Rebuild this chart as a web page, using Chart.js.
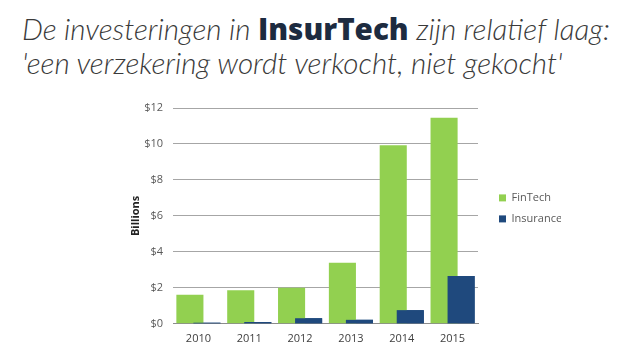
<!DOCTYPE html>
<html>
<head>
<meta charset="utf-8">
<script src="https://cdn.jsdelivr.net/npm/chart.js@4.4.0/dist/chart.umd.min.js"></script>
<style>
  html, body { margin: 0; padding: 0; background: #fff; }
  #wrap { position: relative; width: 638px; height: 359px; overflow: hidden; }
  #title {
    position: absolute; left: 22px; top: 12px;
    font-family: "Lato", sans-serif; font-style: italic; font-weight: 300;
    font-size: 29.6px; line-height: 34px; color: #3a3a3a; white-space: nowrap;
  }
  #title b { font-family: "Open Sans", sans-serif; font-style: normal; font-weight: 800; color: #1d2b40; }
  canvas { position: absolute; left: 0; top: 0; }
</style>
</head>
<body>
<div id="wrap">
  <div id="title">De investeringen in <b>InsurTech</b> zijn relatief laag:<br>'een verzekering wordt verkocht, niet gekocht'</div>
  <canvas id="chart" width="638" height="359"></canvas>
</div>
<script>
// data (billions of dollars)
const years = ['2010', '2011', '2012', '2013', '2014', '2015'];
const fintech = [1.62, 1.86, 2.0, 3.4, 9.93, 11.46];
const insurance = [0.06, 0.1, 0.31, 0.22, 0.76, 2.66];
const yTicks = [0, 2, 4, 6, 8, 10, 12];

// Excel draws the second series over the first where bars overlap
const insuranceOnTop = {
    id: 'insuranceOnTop',
    afterDatasetsDraw(chart) {
        const meta = chart.getDatasetMeta(1);
        if (meta.visible) meta.controller.draw();
    }
};

const ctx = document.getElementById('chart');
new Chart(ctx.getContext('2d'), {
    type: 'bar',
    data: {
        labels: years,
        datasets: [{
            label: 'FinTech',
            data: fintech,
            backgroundColor: '#92D050',
            barPercentage: 1.59,
            categoryPercentage: 0.67
        }, {
            label: 'Insurance',
            data: insurance,
            backgroundColor: '#1F497D',
            barPercentage: 1.59,
            categoryPercentage: 0.67
        }]
    },
    options: {
        responsive: false,
        animation: false,
        layout: { padding: { left: 129, right: 77, top: 108, bottom: 6 } },
        plugins: {
            legend: {
                position: 'right',
                align: 'start',
                title: { display: true, text: '', font: { size: 12 }, padding: { top: 60, bottom: 0 } },
                labels: {
                    boxWidth: 7, boxHeight: 7, padding: 10,
                    color: '#595959',
                    font: { family: 'Open Sans', size: 11 }
                }
            },
            tooltip: { enabled: false }
        },
        scales: {
            x: {
                grid: { display: false, drawTicks: false },
                border: { color: '#8c8c8c' },
                ticks: { padding: 8, color: '#404040', font: { family: 'Open Sans', size: 11 } }
            },
            y: {
                min: 0, max: 12,
                afterBuildTicks: (scale) => { scale.ticks = yTicks.map(v => ({ value: v })); },
                afterFit: (scale) => { scale.width = 44; },
                grid: { color: '#a6a6a6', drawTicks: false },
                border: { display: false },
                ticks: {
                    padding: 10,
                    color: '#595959',
                    font: { family: 'Open Sans', size: 11 },
                    callback: (v) => '$' + v
                },
                title: {
                    display: true, text: 'Billions', color: '#222',
                    font: { family: 'Open Sans', size: 11, weight: 'bold' },
                    padding: 0
                }
            },
            // empty right axis: only keeps a gap between the plot and the legend
            gap: {
                type: 'linear', position: 'right',
                grid: { display: false }, border: { display: false },
                ticks: { display: false },
                afterFit: (scale) => { scale.width = 11; }
            }
        }
    },
    plugins: [insuranceOnTop]
});
</script>
</body>
</html>
